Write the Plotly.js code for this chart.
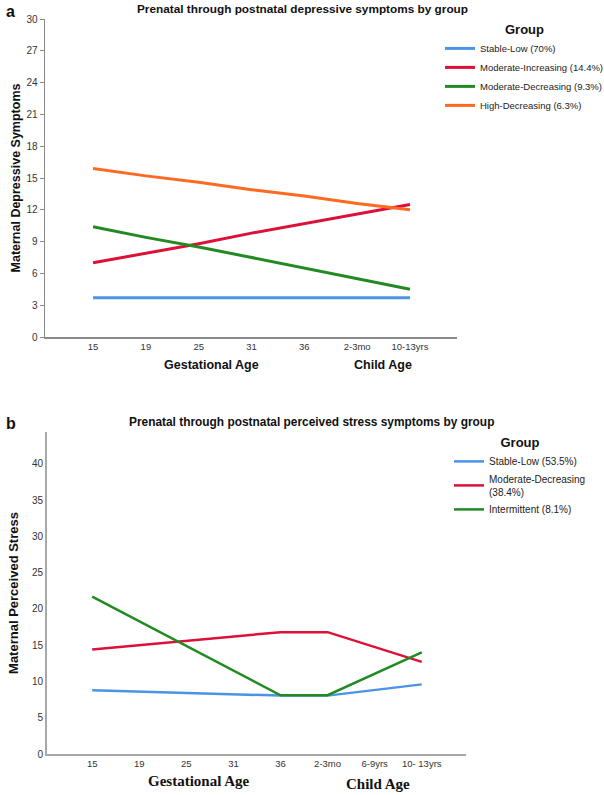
<!DOCTYPE html>
<html>
<head>
<meta charset="utf-8">
<script src="https://cdn.plot.ly/plotly-3.0.1.min.js"></script>
<style>html,body{margin:0;padding:0;background:#fff;}#chart{width:604px;height:795px;}</style>
</head>
<body>
<div id="chart"></div>
<script>
// ---- Panel a data ----
const catsA = ["15", "19", "25", "31", "36", "2-3mo", "10-13yrs"];
const stableLowA = [3.7, 3.7, 3.7, 3.7, 3.7, 3.7, 3.7];
const modIncA = [7.0, 7.9, 8.8, 9.8, 10.7, 11.6, 12.5];
const modDecA = [10.4, 9.4, 8.5, 7.5, 6.5, 5.5, 4.5];
const highDecA = [15.9, 15.2, 14.6, 13.9, 13.3, 12.6, 12.0];
const namesA = ["Stable-Low (70%)", "Moderate-Increasing (14.4%)", "Moderate-Decreasing (9.3%)", "High-Decreasing (6.3%)"];
const yTicksA = [0, 3, 6, 9, 12, 15, 18, 21, 24, 27, 30];

// ---- Panel b data ----
const catsB = ["15", "19", "25", "31", "36", "2-3mo", "6-9yrs", "10- 13yrs"];
const stableLowB = [8.8, 8.6, 8.4, 8.2, 8.05, 8.05, 8.8, 9.6];
const modDecB = [14.4, 15.0, 15.6, 16.2, 16.8, 16.8, 14.8, 12.7];
const intermittentB = [21.7, 18.3, 14.9, 11.5, 8.1, 8.1, 11.0, 14.0];
const namesB = ["Stable-Low (53.5%)", "Moderate-Decreasing<br>(38.4%)", "Intermittent (8.1%)"];
const yTicksB = [0, 5, 10, 15, 20, 25, 30, 35, 40];

const cBlue = "#4a94e6", cRed = "#dc1038", cGreen = "#238a23", cOrange = "#ff6a22";

const W = 604, H = 795;
const px = v => v / W;
const py = v => 1 - v / H;

const traces = [
  {x: catsA, y: stableLowA, name: namesA[0], line: {color: cBlue, width: 3}},
  {x: catsA, y: modIncA, name: namesA[1], line: {color: cRed, width: 3}},
  {x: catsA, y: modDecA, name: namesA[2], line: {color: cGreen, width: 3}},
  {x: catsA, y: highDecA, name: namesA[3], line: {color: cOrange, width: 3}},
  {x: catsB, y: stableLowB, name: namesB[0], xaxis: "x2", yaxis: "y2", legend: "legend2", line: {color: cBlue, width: 2.5}},
  {x: catsB, y: modDecB, name: namesB[1], xaxis: "x2", yaxis: "y2", legend: "legend2", line: {color: cRed, width: 2.5}},
  {x: catsB, y: intermittentB, name: namesB[2], xaxis: "x2", yaxis: "y2", legend: "legend2", line: {color: cGreen, width: 2.5}}
].map(t => Object.assign({type: "scatter", mode: "lines", hoverinfo: "skip"}, t));

const SANS = "Liberation Sans, Arial, sans-serif";
const SERIF = "Liberation Serif, Times New Roman, serif";
const xTickFont = {family: SANS, size: 9.5, color: "#333"};
const yTickFont = {family: SANS, size: 10, color: "#333"};
const boldFont = (s, fam) => ({family: fam || SANS, size: s, color: "#111", weight: "bold"});

const layout = {
  width: W, height: H,
  margin: {l: 0, r: 0, t: 0, b: 0, autoexpand: false},
  paper_bgcolor: "#fff", plot_bgcolor: "#fff",
  font: {family: SANS},
  xaxis: {
    type: "category", categoryorder: "array", categoryarray: catsA,
    domain: [px(45), px(457)], range: [-0.91, 6.89],
    anchor: "y", showgrid: false, zeroline: false,
    showline: true, linecolor: "#8a8a8a", linewidth: 1.5,
    ticks: "", tickfont: xTickFont, fixedrange: true, automargin: false
  },
  yaxis: {
    domain: [py(337), py(19)], range: [0, 30],
    anchor: "x", tickvals: yTicksA, showgrid: false, zeroline: false,
    showline: true, linecolor: "#8a8a8a", linewidth: 1.5,
    ticks: "outside", ticklen: 4, tickcolor: "#8a8a8a", tickfont: yTickFont,
    title: {text: "<b>Maternal Depressive Symptoms</b>", font: boldFont(12.5), standoff: 3},
    fixedrange: true, automargin: false
  },
  xaxis2: {
    type: "category", categoryorder: "array", categoryarray: catsB,
    domain: [px(47), px(466)], range: [-0.96, 7.94],
    anchor: "y2", showgrid: false, zeroline: false,
    showline: true, linecolor: "#a8a8a8", linewidth: 2,
    ticks: "", tickfont: xTickFont, fixedrange: true, automargin: false
  },
  yaxis2: {
    domain: [py(754), py(432)], range: [0, 44.4],
    anchor: "x2", tickvals: yTicksB, showgrid: false, zeroline: false,
    showline: true, linecolor: "#a8a8a8", linewidth: 2,
    ticks: "", tickfont: yTickFont,
    title: {text: "<b>Maternal Perceived Stress</b>", font: boldFont(13), standoff: 10},
    fixedrange: true, automargin: false
  },
  showlegend: true,
  legend: {
    x: px(440), y: py(17), xanchor: "left", yanchor: "top",
    bgcolor: "rgba(0,0,0,0)", tracegroupgap: 0, itemwidth: 30,
    font: {family: SANS, size: 9.5, color: "#222"},
    title: {text: "<b>Group</b>", side: "top center", font: boldFont(13)}
  },
  legend2: {
    x: px(449), y: py(430), xanchor: "left", yanchor: "top",
    bgcolor: "rgba(0,0,0,0)", tracegroupgap: 0, itemwidth: 30,
    font: {family: SANS, size: 10, color: "#222"},
    title: {text: "<b>Group</b>", side: "top center", font: boldFont(13)}
  },
  annotations: [
    {text: "<b>a</b>", x: px(4), y: py(12), xref: "paper", yref: "paper", xanchor: "left", yanchor: "middle", showarrow: false, font: boldFont(16)},
    {text: "<b>Prenatal through postnatal depressive symptoms by group</b>", x: px(302), y: py(9), xref: "paper", yref: "paper", xanchor: "center", yanchor: "middle", showarrow: false, font: boldFont(11.8)},
    {text: "<b>Gestational Age</b>", x: px(211), y: py(365), xref: "paper", yref: "paper", xanchor: "center", yanchor: "middle", showarrow: false, font: boldFont(12.5)},
    {text: "<b>Child Age</b>", x: px(383), y: py(365), xref: "paper", yref: "paper", xanchor: "center", yanchor: "middle", showarrow: false, font: boldFont(12.5)},
    {text: "<b>b</b>", x: px(4), y: py(423), xref: "paper", yref: "paper", xanchor: "left", yanchor: "middle", showarrow: false, font: boldFont(16)},
    {text: "<b>Prenatal through postnatal perceived stress symptoms by group</b>", x: px(311), y: py(422), xref: "paper", yref: "paper", xanchor: "center", yanchor: "middle", showarrow: false, font: boldFont(11.9)},
    {text: "<b>Gestational Age</b>", x: px(199), y: py(781), xref: "paper", yref: "paper", xanchor: "center", yanchor: "middle", showarrow: false, font: boldFont(15, SERIF)},
    {text: "<b>Child Age</b>", x: px(378), y: py(784), xref: "paper", yref: "paper", xanchor: "center", yanchor: "middle", showarrow: false, font: boldFont(15, SERIF)}
  ]
};

Plotly.newPlot("chart", traces, layout, {staticPlot: true, displayModeBar: false});
</script>
</body>
</html>
